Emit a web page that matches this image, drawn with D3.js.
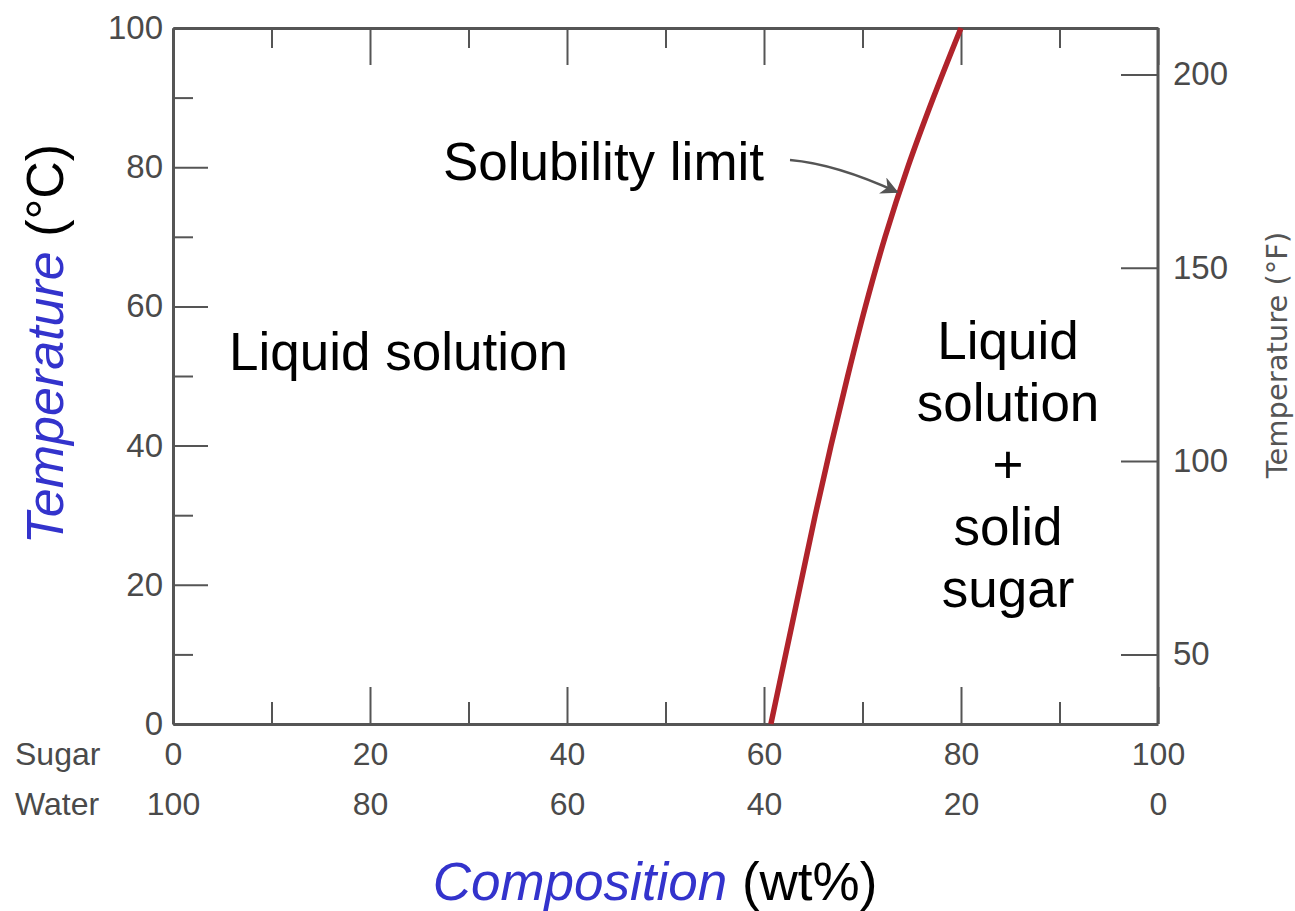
<!DOCTYPE html>
<html>
<head>
<meta charset="utf-8">
<script src="https://cdn.jsdelivr.net/npm/d3@7"></script>
<style>
  html, body { margin: 0; padding: 0; background: #fff; }
  svg { display: block; }
</style>
</head>
<body>
<svg id="chart" width="1295" height="911"></svg>
<script>
// ---- data ----
const solubilityTempC = [0, 10, 20, 30, 40, 50, 60, 70, 80, 90, 100];
const solubilitySugarWt = [60.7, 62.2, 63.7, 65.2, 66.8, 68.5, 70.3, 72.3, 74.6, 77.2, 80.0];
const compositionTicks = [0, 20, 40, 60, 80, 100];
const compositionMinorTicks = [10, 30, 50, 70, 90];
const tempCTicks = [0, 20, 40, 60, 80, 100];
const tempCMinorTicks = [10, 30, 50, 70, 90];
const tempFTicks = [50, 100, 150, 200];
const regionLabelLeft = "Liquid solution";
const regionLabelRight = ["Liquid", "solution", "+", "solid", "sugar"];

// ---- layout ----
const svg = d3.select("#chart");
const X0 = 173, X1 = 1158, Y0 = 724, Y1 = 28;
const x = d3.scaleLinear().domain([0, 100]).range([X0, X1]);
const y = d3.scaleLinear().domain([0, 100]).range([Y0, Y1]);
const yF = d3.scaleLinear().domain([32, 212]).range([Y0, Y1]);

const axisColor = "#555";
const tickFont = "'Liberation Sans', Arial, sans-serif";

function styleAxis(g, fontSize) {
  g.selectAll(".domain").attr("stroke", axisColor).attr("stroke-width", 3);
  g.selectAll(".tick line").attr("stroke", axisColor).attr("stroke-width", 2);
  g.selectAll(".tick text").attr("fill", "#4a4a4a")
    .style("font-family", tickFont).style("font-size", fontSize + "px");
}

// left axis (°C)
const gl = svg.append("g").attr("transform", `translate(${X0},0)`)
  .call(d3.axisLeft(y).tickValues(tempCTicks).tickSizeInner(-35).tickSizeOuter(0).tickPadding(10));
styleAxis(gl, 33);
const glm = svg.append("g").attr("transform", `translate(${X0},0)`)
  .call(d3.axisLeft(y).tickValues(tempCMinorTicks).tickSizeInner(-20).tickSizeOuter(0).tickFormat(""));
styleAxis(glm, 33);
glm.select(".domain").remove();

// bottom axis (sugar)
const gb = svg.append("g").attr("transform", `translate(0,${Y0})`)
  .call(d3.axisBottom(x).tickValues(compositionTicks).tickSizeInner(-37).tickSizeOuter(0).tickPadding(18));
styleAxis(gb, 32);
const gbm = svg.append("g").attr("transform", `translate(0,${Y0})`)
  .call(d3.axisBottom(x).tickValues(compositionMinorTicks).tickSizeInner(-22).tickSizeOuter(0).tickFormat(""));
styleAxis(gbm, 32);
gbm.select(".domain").remove();
// water row
const gw = svg.append("g").attr("transform", `translate(0,${Y0})`)
  .call(d3.axisBottom(x).tickValues(compositionTicks).tickSize(0).tickPadding(68).tickFormat(d => 100 - d));
styleAxis(gw, 32);
gw.select(".domain").remove();

// top axis
const gt = svg.append("g").attr("transform", `translate(0,${Y1})`)
  .call(d3.axisTop(x).tickValues(compositionTicks).tickSizeInner(-37).tickSizeOuter(0).tickFormat(""));
styleAxis(gt, 32);
const gtm = svg.append("g").attr("transform", `translate(0,${Y1})`)
  .call(d3.axisTop(x).tickValues(compositionMinorTicks).tickSizeInner(-20).tickSizeOuter(0).tickFormat(""));
styleAxis(gtm, 32);
gtm.select(".domain").remove();

// right axis (°F)
const gr = svg.append("g").attr("transform", `translate(${X1},0)`)
  .call(d3.axisRight(yF).tickValues(tempFTicks).tickSizeInner(-37).tickSizeOuter(0).tickPadding(15));
styleAxis(gr, 33);
gr.select(".domain").attr("d", `M0,${Y0}V${Y1}`);

// row labels
svg.append("text").attr("x", 15).attr("y", 765).text("Sugar")
  .attr("fill", "#4a4a4a").style("font-family", tickFont).style("font-size", "32px");
svg.append("text").attr("x", 15).attr("y", 815).text("Water")
  .attr("fill", "#4a4a4a").style("font-family", tickFont).style("font-size", "32px");

// solubility curve
const pts = solubilityTempC.map((t, i) => [solubilitySugarWt[i], t]);
const line = d3.line().x(d => x(d[0])).y(d => y(d[1])).curve(d3.curveCatmullRom);
svg.append("path").datum(pts).attr("d", line)
  .attr("fill", "none").attr("stroke", "#b0232b").attr("stroke-width", 5.5).attr("stroke-linecap", "butt");

// arrow annotation
svg.append("defs").append("marker").attr("id", "ah")
  .attr("viewBox", "0 0 10 10").attr("refX", 9).attr("refY", 5)
  .attr("markerWidth", 7).attr("markerHeight", 7).attr("orient", "auto")
  .append("path").attr("d", "M0,0 L10,5 L0,10 L3,5 Z").attr("fill", "#555");
svg.append("path").attr("d", "M790,160 Q836,164 897,192")
  .attr("fill", "none").attr("stroke", "#555").attr("stroke-width", 2.5)
  .attr("marker-end", "url(#ah)");

const mainFont = "'Liberation Sans', Arial, Helvetica, sans-serif";
svg.append("text").attr("x", 443).attr("y", 180).text("Solubility limit")
  .style("font-family", mainFont).style("font-size", "53px").attr("fill", "#000");
svg.append("text").attr("x", 229).attr("y", 370).text(regionLabelLeft)
  .style("font-family", mainFont).style("font-size", "53px").attr("fill", "#000");
svg.append("g").selectAll("text").data(regionLabelRight).join("text")
  .attr("x", 1008).attr("y", (d, i) => 359 + i * 62).attr("text-anchor", "middle").text(d => d)
  .style("font-family", mainFont).style("font-size", "53px").attr("fill", "#000");

// axis titles
const yt = svg.append("text").attr("transform", "translate(63,344) rotate(-90)")
  .attr("text-anchor", "middle").style("font-family", mainFont).style("font-size", "52px");
yt.append("tspan").text("Temperature").attr("fill", "#3333cc").style("font-style", "italic");
yt.append("tspan").text(" (°C)").attr("fill", "#000");

const xt = svg.append("text").attr("x", 655).attr("y", 900)
  .attr("text-anchor", "middle").style("font-family", mainFont).style("font-size", "53px");
xt.append("tspan").text("Composition").attr("fill", "#3333cc").style("font-style", "italic");
xt.append("tspan").text(" (wt%)").attr("fill", "#000");

svg.append("text").attr("transform", "translate(1287,355) rotate(-90)")
  .attr("text-anchor", "middle").text("Temperature (°F)")
  .style("font-family", "'DejaVu Sans', sans-serif").style("font-size", "29px").attr("fill", "#555");
</script>
</body>
</html>
